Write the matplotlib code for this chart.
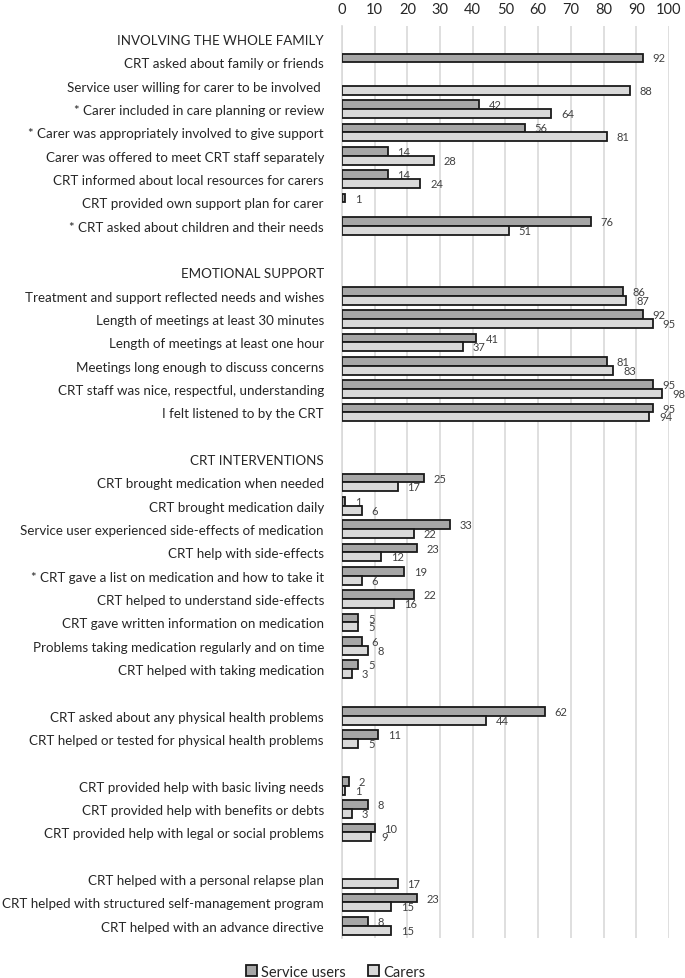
import numpy as np
import matplotlib.pyplot as plt
from matplotlib.patches import Patch

labels = [
    "INVOLVING THE WHOLE FAMILY",
    "CRT asked about family or friends",
    "Service user willing for carer to be involved ",
    "* Carer included in care planning or review",
    "* Carer was appropriately involved to give support",
    "Carer was offered to meet CRT staff separately",
    "CRT informed about local resources for carers",
    "CRT provided own support plan for carer",
    "* CRT asked about children and their needs",
    "",
    "EMOTIONAL SUPPORT",
    "Treatment and support reflected needs and wishes",
    "Length of meetings at least 30 minutes",
    "Length of meetings at least one hour",
    "Meetings long enough to discuss concerns",
    "CRT staff was nice, respectful, understanding",
    "I felt listened to by the CRT",
    "",
    "CRT INTERVENTIONS",
    "CRT brought medication when needed",
    "CRT brought medication daily",
    "Service user experienced side-effects of medication",
    "CRT help with side-effects",
    "* CRT gave a list on medication and how to take it",
    "CRT helped to understand side-effects",
    "CRT gave written information on medication",
    "Problems taking medication regularly and on time",
    "CRT helped with taking medication",
    "",
    "CRT asked about any physical health problems",
    "CRT helped or tested for physical health problems",
    "",
    "CRT provided help with basic living needs",
    "CRT provided help with benefits or debts",
    "CRT provided help with legal or social problems",
    "",
    "CRT helped with a personal relapse plan",
    "CRT helped with structured self-management program",
    "CRT helped with an advance directive",
]

N = None
service_users = [N, 92, N, 42, 56, 14, 14, 1, 76, N,
                 N, 86, 92, 41, 81, 95, 95, N,
                 N, 25, 1, 33, 23, 19, 22, 5, 6, 5, N,
                 62, 11, N, 2, 8, 10, N, N, 23, 8]
carers = [N, N, 88, 64, 81, 28, 24, N, 51, N,
          N, 87, 95, 37, 83, 98, 94, N,
          N, 17, 6, 22, 12, 6, 16, 5, 8, 3, N,
          44, 5, N, 1, 3, 9, N, 17, 15, 15]

plt.rcParams['font.family'] = ['Lato', 'DejaVu Sans']
txt = '#262626'
su_col = '#a6a6a6'
ca_col = '#d9d9d9'

fig = plt.figure(figsize=(6.85, 9.79), dpi=100)
ax = fig.add_axes([0.4993, 0.0409, 0.4773, 0.9315])

y = np.arange(len(labels))
h = 0.38
off = 0.19

for vals, d, col in [(service_users, -off, su_col), (carers, off, ca_col)]:
    for i, v in enumerate(vals):
        if v is None:
            continue
        ax.barh(i + d, v, height=h, color=col, edgecolor='#1a1a1a',
                linewidth=1.3, zorder=3)
        ax.annotate(str(v), (v, i + d), xytext=(7, 0), textcoords='offset points',
                    va='center', ha='left', fontsize=8, color='#404040')

ax.set_xlim(0, 100)
ax.set_ylim(38.52, -0.56)
ax.set_xticks(range(0, 101, 10))
ax.xaxis.tick_top()
ax.tick_params(axis='x', length=0, pad=7, labelsize=10.5, labelcolor=txt)
ax.set_yticks(y)
ax.set_yticklabels(labels)
ax.tick_params(axis='y', length=0, pad=13, labelsize=9.6, labelcolor=txt)
ax.grid(axis='x', color='#d9d9d9', linewidth=1.2, zorder=0)
for s in ['top', 'right', 'bottom']:
    ax.spines[s].set_visible(False)
ax.spines['left'].set_color('#d9d9d9')
ax.spines['left'].set_linewidth(1.2)

handles = [Patch(facecolor=su_col, edgecolor='#1a1a1a', linewidth=1.3, label='Service users'),
           Patch(facecolor=ca_col, edgecolor='#1a1a1a', linewidth=1.3, label='Carers')]
fig.legend(handles=handles, loc='center', bbox_to_anchor=(0.49, 0.0065), ncol=2,
           frameon=False, fontsize=10.5, handlelength=0.75, handleheight=0.75,
           handletextpad=0.3, columnspacing=1.5, labelcolor=txt)

fig.savefig('out.png', dpi=100)
